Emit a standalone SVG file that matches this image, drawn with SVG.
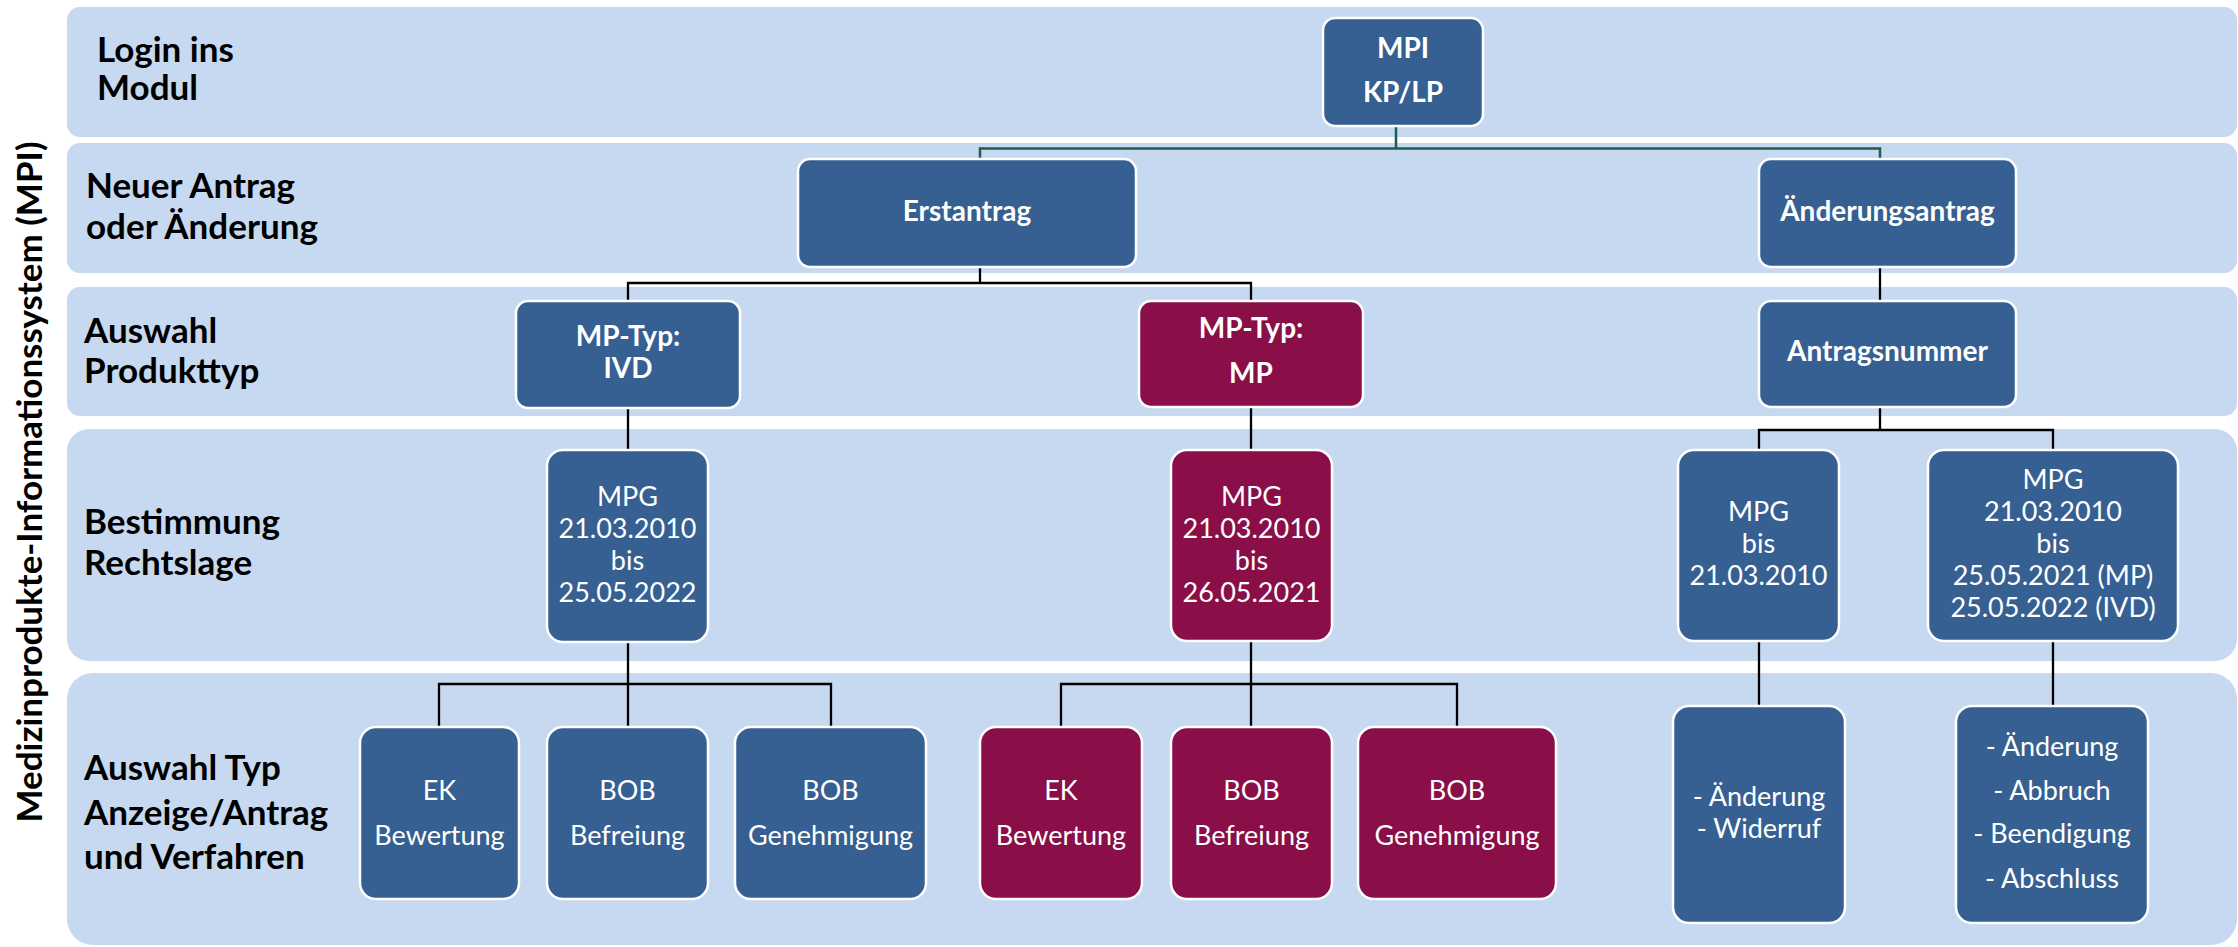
<svg xmlns="http://www.w3.org/2000/svg" width="2238" height="947" viewBox="0 0 2238 947">
<style>
.band{fill:#C6D9F0}
.blue{fill:#366092;stroke:#FFFFFF;stroke-width:2.5}
.red{fill:#8A0E47;stroke:#FFFFFF;stroke-width:2.5}
.lbl{font-family:Lato,"Open Sans","DejaVu Sans",sans-serif;font-weight:700;font-size:35px;fill:#000000}
.vt{font-family:Lato,"Open Sans","DejaVu Sans",sans-serif;font-weight:700;font-size:34px;fill:#000000}
.tb{font-family:Lato,"Open Sans","DejaVu Sans",sans-serif;font-weight:700;font-size:28px;fill:#FFFFFF;text-anchor:middle}
.tr{font-family:Lato,"Open Sans","DejaVu Sans",sans-serif;font-weight:400;font-size:27px;fill:#FFFFFF;text-anchor:middle}
.con{fill:none;stroke:#000000;stroke-width:2.3}
.teal{fill:none;stroke:#1C5E4F;stroke-width:2.5}
</style>
<rect width="2238" height="947" fill="#FFFFFF"/>
<g id="bands">
<rect class="band" x="67" y="7" width="2170" height="130" rx="13"/>
<rect class="band" x="67" y="143" width="2170" height="130" rx="13"/>
<rect class="band" x="67" y="287" width="2170" height="129" rx="13"/>
<rect class="band" x="67" y="429" width="2170" height="232" rx="22"/>
<rect class="band" x="67" y="673" width="2170" height="272" rx="26"/>
</g>
<g id="labels">
<text class="vt" transform="translate(42,482) rotate(-90)" text-anchor="middle" textLength="681" lengthAdjust="spacingAndGlyphs">Medizinprodukte-Informationssystem (MPI)</text>
<text class="lbl" x="97" y="62">Login ins</text>
<text class="lbl" x="97" y="100">Modul</text>
<text class="lbl" x="86" y="198">Neuer Antrag</text>
<text class="lbl" x="86" y="239">oder Änderung</text>
<text class="lbl" x="84" y="343">Auswahl</text>
<text class="lbl" x="84" y="383">Produkttyp</text>
<text class="lbl" x="84" y="534">Bestimmung</text>
<text class="lbl" x="84" y="575">Rechtslage</text>
<text class="lbl" x="84" y="780">Auswahl Typ</text>
<text class="lbl" x="84" y="825">Anzeige/Antrag</text>
<text class="lbl" x="84" y="869">und Verfahren</text>
</g>
<g id="connectors">
<path class="teal" d="M1396,126 V148.5 M980,159 V148.5 H1880 V159"/>
<path class="con" d="M980,267 V283 M628,300 V283 H1251 V300"/>
<path class="con" d="M1880,267 V300"/>
<path class="con" d="M1880,407 V430 M1759,450 V430 H2053 V450"/>
<path class="con" d="M628,408 V450"/>
<path class="con" d="M1251,407 V450"/>
<path class="con" d="M628,642 V684 M439,727 V684 H831 V727 M628,684 V727"/>
<path class="con" d="M1251,641 V684 M1061,727 V684 H1457 V727 M1251,684 V727"/>
<path class="con" d="M1759,641 V706"/>
<path class="con" d="M2053,641 V706"/>
</g>
<g id="n-mpi">
<rect class="blue" x="1323" y="18" width="160" height="108" rx="12"/>
<text class="tb" x="1403" y="58">MPI</text>
<text class="tb" x="1403" y="102">KP/LP</text>
</g>
<g id="n-erstantrag">
<rect class="blue" x="798" y="159" width="338" height="108" rx="12"/>
<text class="tb" x="967" y="221">Erstantrag</text>
</g>
<g id="n-aenderungsantrag">
<rect class="blue" x="1759" y="159" width="257" height="108" rx="12"/>
<text class="tb" x="1887.5" y="221">Änderungsantrag</text>
</g>
<g id="n-ivd">
<rect class="blue" x="516" y="301" width="224" height="107" rx="12"/>
<text class="tb" x="628" y="346">MP-Typ:</text>
<text class="tb" x="628" y="378">IVD</text>
</g>
<g id="n-mp">
<rect class="red" x="1139" y="301" width="224" height="106" rx="12"/>
<text class="tb" x="1251" y="338">MP-Typ:</text>
<text class="tb" x="1251" y="383">MP</text>
</g>
<g id="n-antragsnummer">
<rect class="blue" x="1759" y="301" width="257" height="106" rx="12"/>
<text class="tb" x="1887.5" y="361">Antragsnummer</text>
</g>
<g id="n-mpg-ivd">
<rect class="blue" x="547" y="450" width="161" height="192" rx="16"/>
<text class="tr" x="627.5" y="506">MPG</text>
<text class="tr" x="627.5" y="538">21.03.2010</text>
<text class="tr" x="627.5" y="570">bis</text>
<text class="tr" x="627.5" y="602">25.05.2022</text>
</g>
<g id="n-mpg-mp">
<rect class="red" x="1171" y="450" width="161" height="191" rx="16"/>
<text class="tr" x="1251.5" y="506">MPG</text>
<text class="tr" x="1251.5" y="538">21.03.2010</text>
<text class="tr" x="1251.5" y="570">bis</text>
<text class="tr" x="1251.5" y="602">26.05.2021</text>
</g>
<g id="n-mpg-bis">
<rect class="blue" x="1678" y="450" width="161" height="191" rx="16"/>
<text class="tr" x="1758.5" y="521">MPG</text>
<text class="tr" x="1758.5" y="553">bis</text>
<text class="tr" x="1758.5" y="585">21.03.2010</text>
</g>
<g id="n-mpg-neu">
<rect class="blue" x="1928" y="450" width="250" height="191" rx="16"/>
<text class="tr" x="2053" y="489">MPG</text>
<text class="tr" x="2053" y="521">21.03.2010</text>
<text class="tr" x="2053" y="553">bis</text>
<text class="tr" x="2053" y="585">25.05.2021 (MP)</text>
<text class="tr" x="2053" y="617">25.05.2022 (IVD)</text>
</g>
<g id="n-ek-ivd">
<rect class="blue" x="360" y="727" width="159" height="172" rx="16"/>
<text class="tr" x="439.5" y="800">EK</text>
<text class="tr" x="439.5" y="845">Bewertung</text>
</g>
<g id="n-bob-bef-ivd">
<rect class="blue" x="547" y="727" width="161" height="172" rx="16"/>
<text class="tr" x="627.5" y="800">BOB</text>
<text class="tr" x="627.5" y="845">Befreiung</text>
</g>
<g id="n-bob-gen-ivd">
<rect class="blue" x="735" y="727" width="191" height="172" rx="16"/>
<text class="tr" x="830.5" y="800">BOB</text>
<text class="tr" x="830.5" y="845">Genehmigung</text>
</g>
<g id="n-ek-mp">
<rect class="red" x="980" y="727" width="162" height="172" rx="16"/>
<text class="tr" x="1061" y="800">EK</text>
<text class="tr" x="1061" y="845">Bewertung</text>
</g>
<g id="n-bob-bef-mp">
<rect class="red" x="1171" y="727" width="161" height="172" rx="16"/>
<text class="tr" x="1251.5" y="800">BOB</text>
<text class="tr" x="1251.5" y="845">Befreiung</text>
</g>
<g id="n-bob-gen-mp">
<rect class="red" x="1358" y="727" width="198" height="172" rx="16"/>
<text class="tr" x="1457" y="800">BOB</text>
<text class="tr" x="1457" y="845">Genehmigung</text>
</g>
<g id="n-aend-alt">
<rect class="blue" x="1673" y="706" width="172" height="217" rx="16"/>
<text class="tr" x="1759" y="806">- Änderung</text>
<text class="tr" x="1759" y="838">- Widerruf</text>
</g>
<g id="n-aend-neu">
<rect class="blue" x="1956" y="706" width="192" height="217" rx="16"/>
<text class="tr" x="2052" y="756">- Änderung</text>
<text class="tr" x="2052" y="800">- Abbruch</text>
<text class="tr" x="2052" y="843">- Beendigung</text>
<text class="tr" x="2052" y="888">- Abschluss</text>
</g>
</svg>
